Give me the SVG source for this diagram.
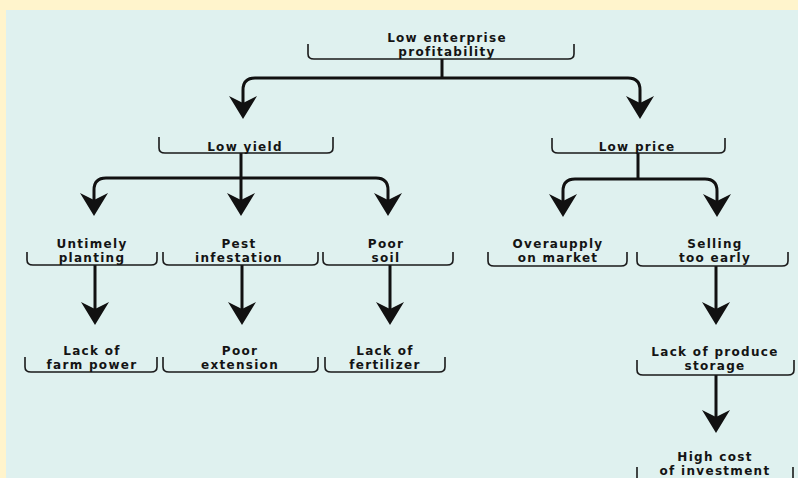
<svg xmlns="http://www.w3.org/2000/svg" xmlns:xlink="http://www.w3.org/1999/xlink" width="798" height="478" viewBox="0 0 798 478">
<style>
text{font-family:"DejaVu Sans","Liberation Sans",sans-serif;font-weight:bold;font-size:12px;letter-spacing:1.3px;fill:#141414;text-anchor:middle}
.br{fill:none;stroke:#1a1a1a;stroke-width:1.6}
.ln{fill:none;stroke:#111;stroke-width:3}
.ah{fill:#111}
</style>
<defs>
<path id="ah" class="ah" d="M0,0 L-14,-23 L0,-16 L14,-23 Z"/>
</defs>
<rect x="0" y="0" width="798" height="478" fill="#fff4cc"/>
<rect x="6" y="10" width="792" height="468" fill="#dff1ef"/>

<g id="connectors">
<path class="ln" d="M442,59 V78"/>
<path class="ln" d="M243,105 V90 Q243,78 255,78 H628 Q640,78 640,90 V105"/>
<use xlink:href="#ah" x="243" y="119"/>
<use xlink:href="#ah" x="640" y="119"/>

<path class="ln" d="M241,153 V202"/>
<path class="ln" d="M94,202 V190 Q94,178 106,178 H376 Q388,178 388,190 V202"/>
<use xlink:href="#ah" x="94" y="216"/>
<use xlink:href="#ah" x="241" y="216"/>
<use xlink:href="#ah" x="388" y="216"/>

<path class="ln" d="M638,153 V179"/>
<path class="ln" d="M563,203 V191 Q563,179 575,179 H705 Q717,179 717,191 V203"/>
<use xlink:href="#ah" x="563" y="217"/>
<use xlink:href="#ah" x="717" y="217"/>

<path class="ln" d="M95,265 V311"/>
<path class="ln" d="M242,265 V311"/>
<path class="ln" d="M390,265 V311"/>
<path class="ln" d="M716,266 V311"/>
<use xlink:href="#ah" x="95" y="325"/>
<use xlink:href="#ah" x="242" y="325"/>
<use xlink:href="#ah" x="390" y="325"/>
<use xlink:href="#ah" x="716" y="325"/>

<path class="ln" d="M716,375 V419"/>
<use xlink:href="#ah" x="716" y="433"/>
</g>

<g id="n-profit">
<path class="br" d="M308,44 V54 Q308,59 314,59 H568 Q574,59 574,54 V44"/>
<text x="447" y="42">Low enterprise</text>
<text x="447" y="56">profitability</text>
</g>
<g id="n-yield">
<path class="br" d="M159,137 V148 Q159,153 165,153 H327 Q333,153 333,148 V137"/>
<text x="245" y="151">Low yield</text>
</g>
<g id="n-price">
<path class="br" d="M552,138 V148 Q552,153 558,153 H719 Q725,153 725,148 V138"/>
<text x="637" y="151">Low price</text>
</g>
<g id="n-untimely">
<path class="br" d="M27,252 V260 Q27,265 33,265 H151 Q157,265 157,260 V252"/>
<text x="92" y="248">Untimely</text>
<text x="92" y="262">planting</text>
</g>
<g id="n-pest">
<path class="br" d="M163,252 V260 Q163,265 169,265 H312 Q318,265 318,260 V252"/>
<text x="239" y="248">Pest</text>
<text x="239" y="262">infestation</text>
</g>
<g id="n-soil">
<path class="br" d="M323,252 V260 Q323,265 329,265 H447 Q453,265 453,260 V252"/>
<text x="386" y="248">Poor</text>
<text x="386" y="262">soil</text>
</g>
<g id="n-oversupply">
<path class="br" d="M488,252 V261 Q488,266 494,266 H621 Q627,266 627,261 V252"/>
<text x="558" y="248">Overaupply</text>
<text x="558" y="262">on market</text>
</g>
<g id="n-selling">
<path class="br" d="M637,252 V261 Q637,266 643,266 H782 Q788,266 788,261 V252"/>
<text x="715" y="248">Selling</text>
<text x="715" y="262">too early</text>
</g>
<g id="n-farmpower">
<path class="br" d="M25,357 V367 Q25,372 31,372 H151 Q157,372 157,367 V357"/>
<text x="92" y="355">Lack of</text>
<text x="92" y="369">farm power</text>
</g>
<g id="n-extension">
<path class="br" d="M163,357 V367 Q163,372 169,372 H312 Q318,372 318,367 V357"/>
<text x="240" y="355">Poor</text>
<text x="240" y="369">extension</text>
</g>
<g id="n-fertilizer">
<path class="br" d="M325,357 V367 Q325,372 331,372 H439 Q445,372 445,367 V357"/>
<text x="385" y="355">Lack of</text>
<text x="385" y="369">fertilizer</text>
</g>
<g id="n-storage">
<path class="br" d="M637,360 V370 Q637,375 643,375 H788 Q794,375 794,370 V360"/>
<text x="715" y="356">Lack of produce</text>
<text x="715" y="370">storage</text>
</g>
<g id="n-investment">
<path class="br" d="M637,467 V478 Q637,483 643,483 H787 Q793,483 793,478 V467"/>
<text x="715" y="461">High cost</text>
<text x="715" y="475">of investment</text>
</g>
</svg>
